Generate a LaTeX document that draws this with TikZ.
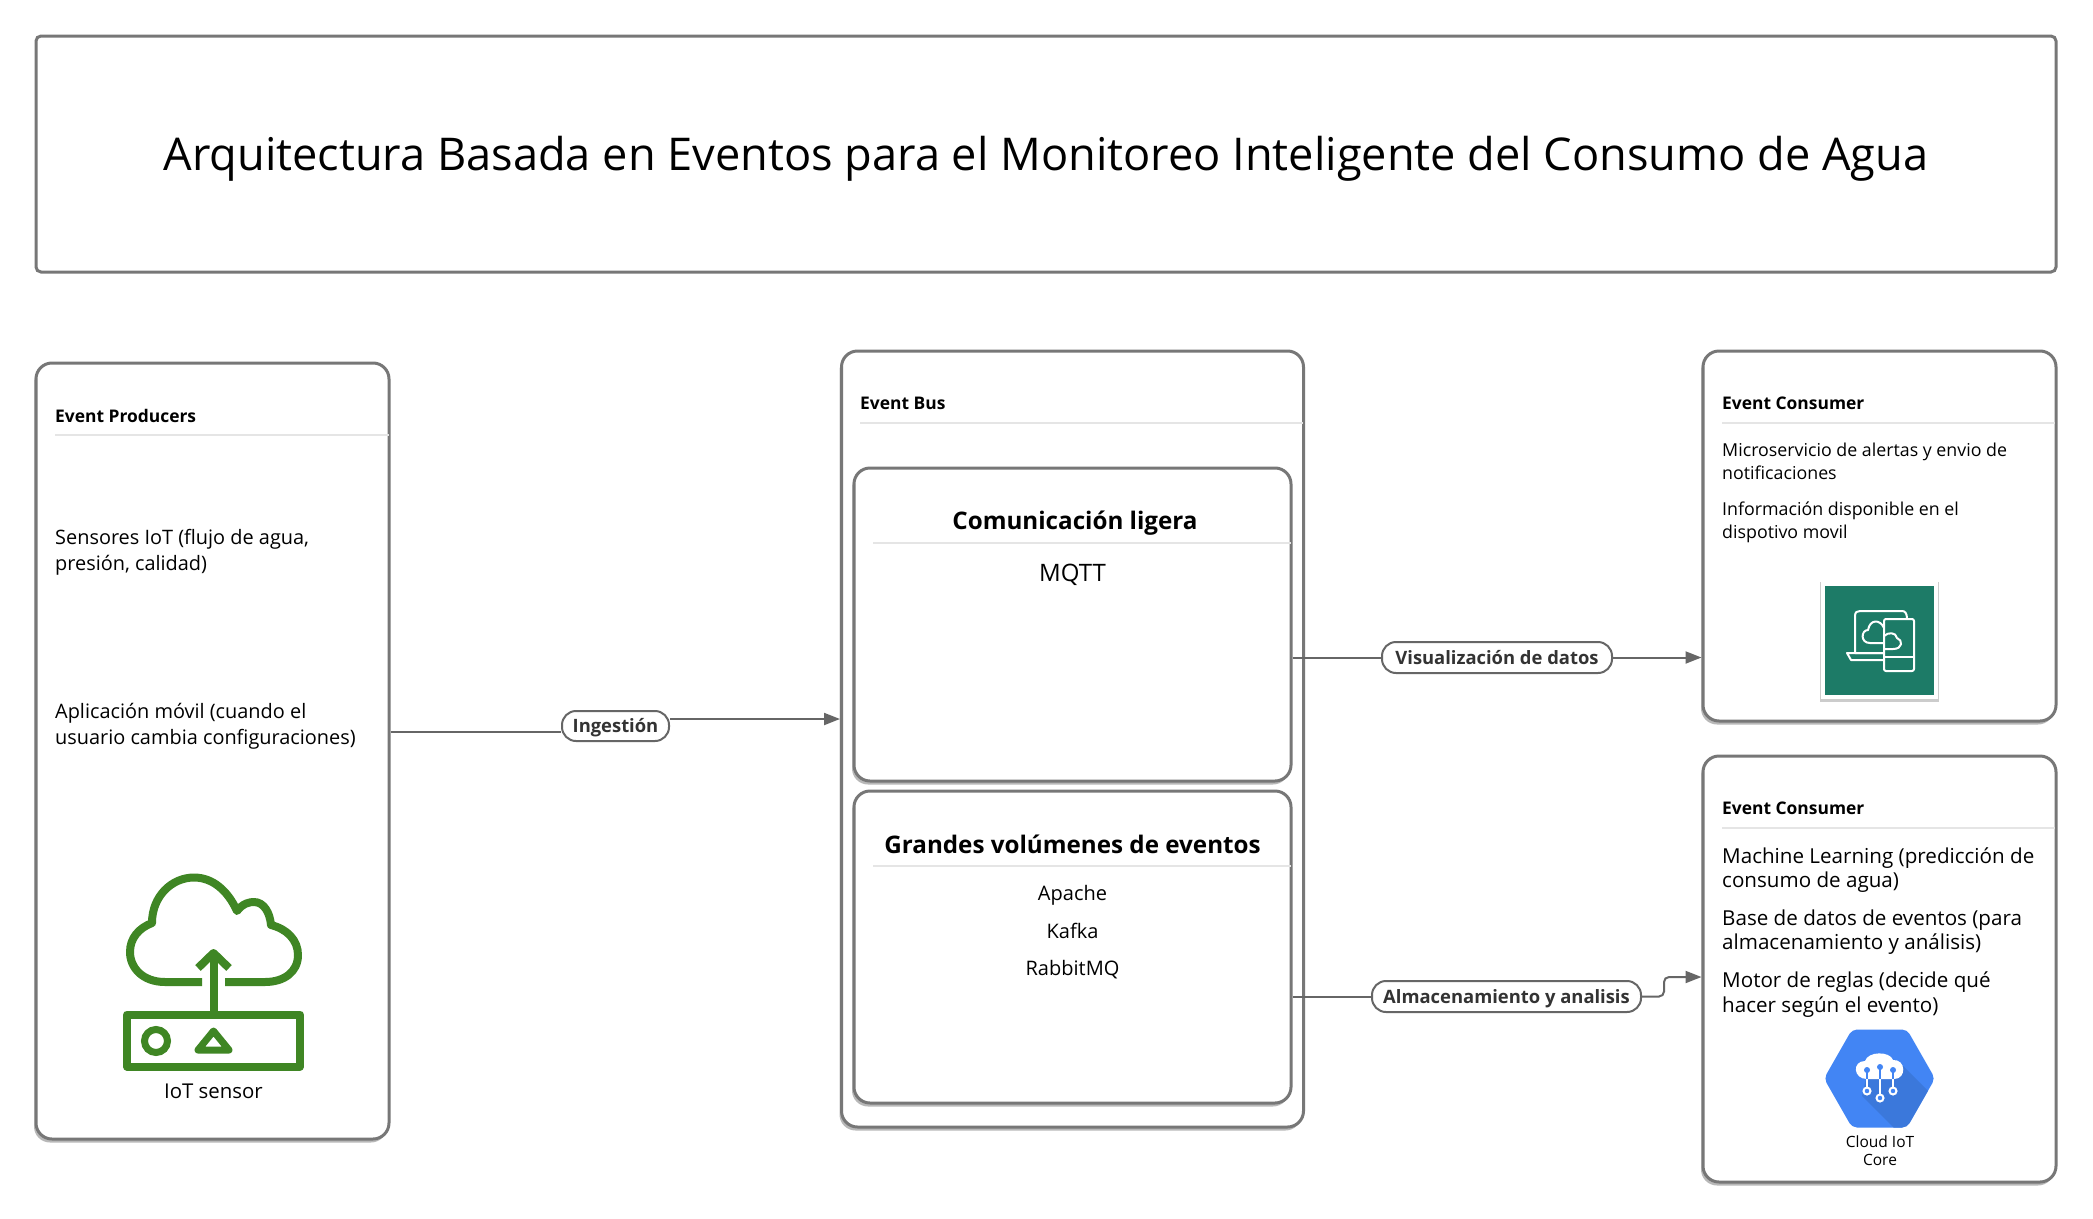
\documentclass[tikz,border=0pt]{standalone}
\usepackage{fontspec}
\setmainfont{Open Sans}
\usetikzlibrary{arrows.meta,shadows,positioning}

\definecolor{boxgray}{HTML}{777777}
\definecolor{linegray}{HTML}{666666}
\definecolor{rulegray}{HTML}{E5E5E5}
\definecolor{pillink}{HTML}{333333}
\definecolor{iotgreen}{HTML}{3F8624}
\definecolor{appteal}{HTML}{1D7B67}
\definecolor{gcpblue}{HTML}{4285F4}
\definecolor{gcpdark}{HTML}{3B78DB}

\newcommand{\fsz}[1]{\fontsize{#1}{#1}\selectfont}

\tikzset{
  panel/.style={draw=boxgray,line width=3pt,rounded corners=16pt,fill=white,inner sep=0pt,
    drop shadow={shadow xshift=-2pt,shadow yshift=-3.5pt,opacity=.28,fill=black}},
  head/.style={anchor=west,inner sep=0pt,font=\fsz{17.4}\bfseries},
  divider/.style={draw=rulegray,line width=2pt},
  body/.style={anchor=west,align=left,inner sep=0pt,font=\fontsize{19.9}{26}\selectfont},
  subhead/.style={inner sep=0pt,text height=18pt,text depth=1pt,font=\fsz{24.2}\bfseries},
  item/.style={inner sep=0pt,text height=15pt,text depth=1pt,font=\fsz{20}},
  pill/.style={draw=linegray,line width=2pt,rounded corners=14pt,fill=white,text=pillink,
    inner sep=0pt,text height=14pt,text depth=1pt,font=\fsz{18.4}\bfseries},
  flow/.style={draw=linegray,line width=2pt},
  flowtip/.style={flow,-{Triangle[length=16pt,width=12pt]}},
  glyph/.style={line width=8pt,draw=iotgreen,line join=round},
  thin glyph/.style={line width=2pt,draw=white,line join=round}
}

\begin{document}
\begin{tikzpicture}[x=1pt,y=-1pt]

\fill[white] (0,0) rectangle (2093,1218);
\useasboundingbox (0,0) rectangle (2093,1218);

\node[draw=boxgray,line width=3pt,rounded corners=5pt,minimum width=2020pt,minimum height=236pt,
  text height=32pt,text depth=0pt,font=\fsz{45.15}] (title) at (1046,154) {Arquitectura Basada en Eventos para el Monitoreo Inteligente del Consumo de Agua};

\node[panel,minimum width=353pt,minimum height=776pt] (producers) at (212.5,751) {};
\node[head] (producershead) at (55,416) {Event Producers};
\draw[divider] (55,435) -- (389,435);
\node[body] (sensors) at (55,552.5) {Sensores IoT (flujo de agua,\\presión, calidad)};
\node[body] (mobile) at (55,726.5) {Aplicación móvil (cuando el\\usuario cambia configuraciones)};

\draw[glyph] (202,982) -- (165,982) .. controls (143,982) and (130,968) .. (130,952)
  .. controls (130,938) and (139,928) .. (152,923) .. controls (152,896) and (172,877.5) .. (194,877.5)
  .. controls (213,877.5) and (228,891) .. (237,911) .. controls (243,903) and (250,902) .. (254,902)
  .. controls (264,902) and (270,913) .. (271,925) .. controls (287,929) and (298,940) .. (298,955)
  .. controls (298,972) and (284,982) .. (265,982) -- (225,982);
\draw[glyph] (213.5,1012) -- (213.5,952);
\draw[glyph,line cap=butt] (198,968) -- (213.5,953) -- (229,968);
\draw[glyph] (127,1014.5) rectangle (300,1066.5);
\draw[line width=7pt,draw=iotgreen] (156,1041) circle (11.5pt);
\draw[line width=7pt,draw=iotgreen,line join=round] (213.5,1031) -- (198,1050) -- (229,1050) -- cycle;
\node[item,font=\fsz{20.4}] (sensorlabel) at (213.5,1091) {IoT sensor};

\node[panel,minimum width=462pt,minimum height=776pt] (bus) at (1072.5,739) {};
\node[head] (bushead) at (860,403) {Event Bus};
\draw[divider] (860,423) -- (1303,423);

\node[panel,minimum width=437pt,minimum height=313pt] (light) at (1072.5,624.5) {};
\node[subhead] (lighthead) at (1075,521) {Comunicación ligera};
\draw[divider] (873,543) -- (1291,543);
\node[item,font=\fsz{24}] (mqtt) at (1072.5,574) {MQTT};

\node[panel,minimum width=437pt,minimum height=312pt] (bulk) at (1072.5,947) {};
\node[subhead] (bulkhead) at (1072.5,844.5) {Grandes volúmenes de eventos};
\draw[divider] (873,866) -- (1291,866);
\foreach \y / \element in {893.5/Apache,931/Kafka,968/RabbitMQ}
  \node[item] (broker\y) at (1072.5,\y) {\element};

\node[panel,minimum width=353pt,minimum height=370pt] (alerts) at (1879.5,536) {};
\node[head] (alertshead) at (1722,403) {Event Consumer};
\draw[divider] (1722,423) -- (2055,423);
\node[body,font=\fontsize{17.8}{23}\selectfont] (alertstext) at (1722,461.5) {Microservicio de alertas y envio de\\notificaciones};
\node[body,font=\fontsize{17.8}{23}\selectfont] (devicetext) at (1722,522.5) {Información disponible en el\\dispotivo movil};

\node[fill=white,minimum size=117pt,inner sep=0pt,
  drop shadow={shadow scale=1.025,shadow xshift=0pt,shadow yshift=-1pt,opacity=.2,fill=black}] (appframe) at (1879.5,640.5) {};
\node[fill=appteal,minimum size=109pt,inner sep=0pt] (appicon) at (appframe) {};
\draw[thin glyph] (1884,653) -- (1855,653) -- (1855,616) .. controls (1855,612) and (1857,611) .. (1860,611)
  -- (1902,611) .. controls (1905,611) and (1907,613) .. (1907,619);
\draw[thin glyph] (1884,653) -- (1847,653) -- (1851,660) -- (1884,660);
\draw[thin glyph,rounded corners=2pt] (1884,619) rectangle (1914,671);
\draw[thin glyph] (1884,657) -- (1914,657);
\draw[thin glyph] (1884,643) -- (1870,643) .. controls (1860,643) and (1861,630) .. (1868,630)
  .. controls (1870,619) and (1880,619) .. (1884,628);
\draw[thin glyph] (1884,649) -- (1893,649) .. controls (1903,649) and (1903,640) .. (1897,638)
  .. controls (1896,632) and (1888,632) .. (1884,636);

\node[panel,minimum width=353pt,minimum height=426pt] (analytics) at (1879.5,969) {};
\node[head] (analyticshead) at (1722,808) {Event Consumer};
\draw[divider] (1722,828) -- (2055,828);
\node[body,font=\fontsize{20.6}{24.3}\selectfont] (mltext) at (1722,870) {Machine Learning (predicción de\\consumo de agua)};
\node[body,font=\fontsize{20.6}{24.3}\selectfont] (dbtext) at (1722,932) {Base de datos de eventos (para\\almacenamiento y análisis)};
\node[body,font=\fontsize{20.6}{24.3}\selectfont] (rulestext) at (1722,994.5) {Motor de reglas (decide qué\\hacer según el evento)};

\fill[gcpblue,rounded corners=5pt] (1824,1078.5) -- (1852,1029.5) -- (1907,1029.5) -- (1935,1078.5)
  -- (1907,1127.5) -- (1852,1127.5) -- cycle;
\begin{scope}
\clip[rounded corners=5pt] (1824,1078.5) -- (1852,1029.5) -- (1907,1029.5) -- (1935,1078.5)
  -- (1907,1127.5) -- (1852,1127.5) -- cycle;
\fill[gcpdark] (1903,1066) -- (1940,1103) -- (1906,1140) -- (1895,1129) -- (1862,1096) -- (1866,1079) -- cycle;
\end{scope}
\fill[white] (1867,1079) .. controls (1853,1079) and (1852,1061) .. (1865,1061)
  .. controls (1868,1051) and (1890,1051) .. (1893,1060) .. controls (1906,1059) and (1907,1079) .. (1894,1079) -- cycle;
\foreach \x / \ya / \yb in {1867/1070/1091,1880/1067/1098,1893/1070/1091} {
  \draw[gcpblue,line width=2pt] (\x,\ya) -- (\x,1079);
  \draw[white,line width=2pt] (\x,1079) -- (\x,\yb);
  \fill[gcpblue] (\x,\ya) circle (3pt);
  \draw[white,line width=2pt,fill=gcpblue] (\x,\yb) circle (3.5pt);
}
\node[inner sep=0pt,font=\fontsize{15.5}{18.5}\selectfont,align=center] (corelabel) at (1880,1150.5) {Cloud IoT\\Core};

\node[pill,minimum width=107pt,minimum height=30pt] (ingestion) at (615.5,726) {Ingestión};
\node[pill,minimum width=230pt,minimum height=31pt] (dataview) at (1497,657.5) {Visualización de datos};
\node[pill,minimum width=269pt,minimum height=31pt] (storage) at (1506.5,996.5) {Almacenamiento y analisis};

\coordinate (ingestout) at ([yshift=-6pt]ingestion.west);
\coordinate (ingestin) at ([yshift=7pt]ingestion.east);
\draw[flow] (producers.east |- ingestout) -- (ingestout);
\draw[flowtip] (ingestin) -- (bus.west |- ingestin);

\draw[flow] (light.east |- dataview.west) -- (dataview.west);
\draw[flowtip] (dataview.east) -- (alerts.west |- dataview.east);

\coordinate (storagein) at (analytics.west |- 0,977);
\draw[flow] (bulk.east |- storage.west) -- (storage.west);
\draw[flowtip,rounded corners=5pt] (storage.east) -- (1664,996.5) -- (1664,977) -- (storagein);

\end{tikzpicture}
\end{document}
